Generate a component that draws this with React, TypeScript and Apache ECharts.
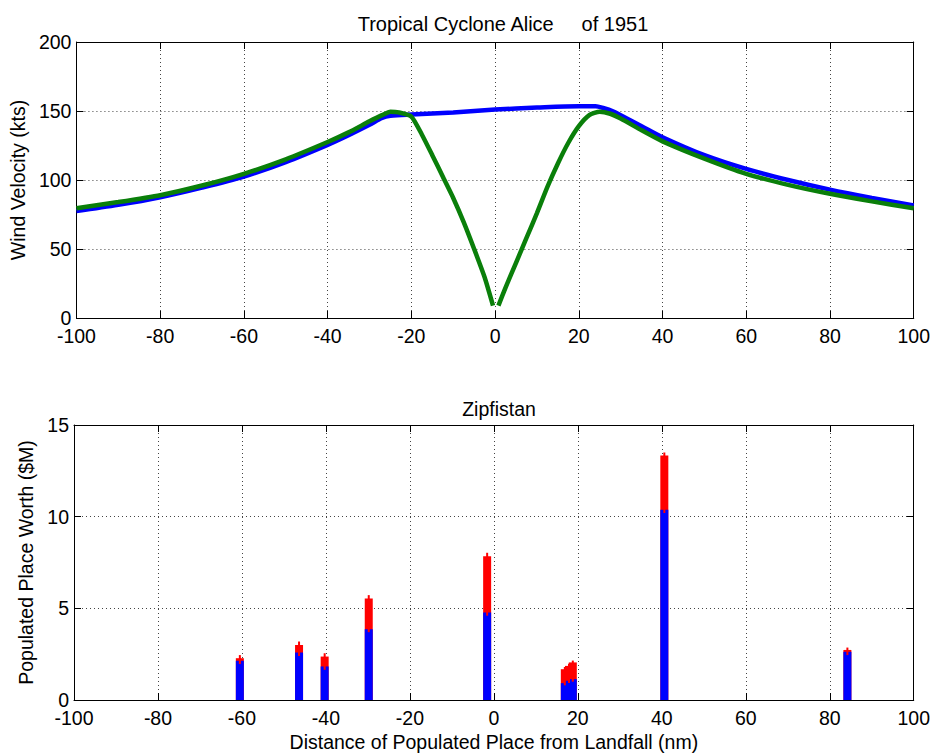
import React, { useEffect, useRef } from "react";
import * as echarts from "echarts";

// ---- Top chart: wind velocity profiles ----
const blueX = [-100, -90, -80, -70, -60, -50, -40, -35, -30, -27, -25, -20, -10, 0, 10, 20, 24, 26, 28, 30, 35, 40, 50, 60, 70, 80, 90, 100];
const blueY = [77.5, 82, 87.5, 94.5, 102.5, 113, 125.5, 132.5, 140, 145, 146.5, 147.5, 149, 151, 152.5, 153.5, 153.5, 152, 150, 147, 139, 131, 118, 108, 100, 93, 87, 81.5];

const greenLeftX = [-100, -90, -80, -70, -60, -50, -40, -35, -30, -27, -25, -23, -20, -17.5, -15, -12.5, -10, -7.5, -5, -2.5, -0.5];
const greenLeftY = [79.5, 84, 89, 96, 104.5, 115, 127.5, 134.5, 142.5, 147, 149.5, 149, 146, 133, 118, 102.5, 87, 69.5, 50, 29.5, 9];
const greenRightX = [0.8, 2.5, 5, 7.5, 10, 12.5, 15, 17.5, 20, 22.5, 25, 27.5, 30, 35, 40, 50, 60, 70, 80, 90, 100];
const greenRightY = [9, 22, 40, 58, 76, 95, 112, 127, 139, 147, 149.5, 148, 144.5, 136, 128, 115.5, 104.5, 96.5, 90, 84.5, 79.5];

// ---- Bottom chart: populated place worth ----
const placeX = [-60.5, -46.4, -40.3, -29.8, -1.6, 16.9, 17.9, 18.8, 40.6, 84.2];
const blueWorth = [2.14, 2.59, 1.83, 3.86, 4.77, 0.92, 1.05, 1.14, 10.38, 2.63];
const redWorth = [0.14, 0.41, 0.54, 1.68, 3.07, 0.76, 0.81, 0.91, 2.95, 0.1];
const errLow = [1.96, 2.4, 1.65, 3.7, 4.6, 0.8, 0.93, 1.0, 10.2, 2.45];
const errHigh = [2.45, 3.19, 2.55, 5.72, 8.03, 1.8, 1.98, 2.15, 13.5, 2.86];

const xTicks = { min: -100, max: 100, interval: 20 };
const topY = { min: 0, max: 200, interval: 50 };
const botY = { min: 0, max: 15, interval: 5 };

const FONT = "Liberation Sans, Arial, sans-serif";
const FS = 19.5;

function pairs(xs: number[], ys: number[]) {
  return xs.map((x, i) => [x, ys[i]]);
}

export default function App() {
  const ref = useRef<HTMLDivElement>(null);
  useEffect(() => {
    if (!ref.current) return;
    const chart = echarts.init(ref.current, undefined, { renderer: "svg" });

    const gridLine = { show: true, lineStyle: { color: "#444", type: [1, 3] as any, width: 1 } };
    const axisLine = { show: true, onZero: false, lineStyle: { color: "#000", width: 1 } };
    const tick = { show: true, inside: true, length: 7, lineStyle: { color: "#000" } };
    const label = { color: "#000", fontSize: FS, fontFamily: FONT };

    const mainX = (gridIndex: number, name: string) => ({
      type: "value",
      gridIndex,
      position: "bottom",
      ...xTicks,
      axisLine,
      axisTick: tick,
      axisLabel: { ...label, margin: 10, lineHeight: 16 },
      splitLine: gridLine,
      name,
      nameLocation: "middle",
      nameGap: 32,
      nameTextStyle: { color: "#000", fontSize: FS, fontFamily: FONT },
    });
    const topX = (gridIndex: number) => ({
      type: "value",
      gridIndex,
      position: "top",
      ...xTicks,
      axisLine,
      axisTick: tick,
      axisLabel: { show: false },
      splitLine: { show: false },
    });
    const mainY = (gridIndex: number, range: any, name: string, gap: number) => ({
      type: "value",
      gridIndex,
      position: "left",
      ...range,
      axisLine,
      axisTick: tick,
      axisLabel: { ...label, margin: 5, lineHeight: 14 },
      splitLine: gridLine,
      name,
      nameLocation: "middle",
      nameGap: gap,
      nameRotate: 90,
      nameTextStyle: { color: "#000", fontSize: FS, fontFamily: FONT },
    });
    const rightY = (gridIndex: number, range: any) => ({
      type: "value",
      gridIndex,
      position: "right",
      ...range,
      axisLine,
      axisTick: tick,
      axisLabel: { show: false },
      splitLine: { show: false },
    });

    const totals = blueWorth.map((b, i) => b + redWorth[i]);

    chart.setOption({
      animation: false,
      backgroundColor: "#fff",
      title: [
        {
          text: "Tropical Cyclone Alice     of 1951",
          left: 498,
          top: 9,
          textAlign: "center",
          textStyle: { color: "#000", fontSize: 20, fontWeight: "normal", fontFamily: FONT },
        },
        {
          text: "Zipfistan",
          left: 494,
          top: 394,
          textAlign: "center",
          textStyle: { color: "#000", fontSize: FS, fontWeight: "normal", fontFamily: FONT },
        },
      ],
      grid: [
        { left: 74, right: 19, top: 42, height: 276 },
        { left: 74, right: 19, top: 425, height: 276 },
      ],
      xAxis: [mainX(0, ""), topX(0), mainX(1, "Distance of Populated Place from Landfall (nm)"), topX(1)],
      yAxis: [
        mainY(0, topY, "Wind Velocity (kts)", 44),
        rightY(0, topY),
        mainY(1, botY, "Populated Place Worth ($M)", 34),
        rightY(1, botY),
      ],
      series: [
        {
          type: "line",
          xAxisIndex: 0,
          yAxisIndex: 0,
          data: pairs(blueX, blueY),
          showSymbol: false,
          smooth: 0.3,
          lineStyle: { color: "#0000ff", width: 4.5 },
          clip: true,
          z: 3,
        },
        {
          type: "line",
          xAxisIndex: 0,
          yAxisIndex: 0,
          data: pairs(greenLeftX, greenLeftY),
          showSymbol: false,
          smooth: 0.2,
          lineStyle: { color: "#0a7f0a", width: 4.5 },
          clip: true,
          z: 4,
        },
        {
          type: "line",
          xAxisIndex: 0,
          yAxisIndex: 0,
          data: pairs(greenRightX, greenRightY),
          showSymbol: false,
          smooth: 0.2,
          lineStyle: { color: "#0a7f0a", width: 4.5 },
          clip: true,
          z: 4,
        },
        {
          type: "bar",
          xAxisIndex: 2,
          yAxisIndex: 2,
          data: pairs(placeX, totals),
          barWidth: 8,
          barGap: "-100%",
          itemStyle: { color: "#ff0000" },
          z: 2,
        },
        {
          type: "bar",
          xAxisIndex: 2,
          yAxisIndex: 2,
          data: pairs(placeX, blueWorth),
          barWidth: 8,
          barGap: "-100%",
          itemStyle: { color: "#0000ff" },
          z: 3,
        },
        {
          type: "custom",
          xAxisIndex: 2,
          yAxisIndex: 2,
          data: placeX.map((x, i) => [x, errLow[i], errHigh[i]]),
          encode: { x: 0, y: [1, 2] },
          renderItem: (params: any, api: any) => {
            const x = api.value(0);
            const lo = api.coord([x, api.value(1)]);
            const hi = api.coord([x, api.value(2)]);
            return {
              type: "line",
              shape: { x1: lo[0], y1: lo[1], x2: hi[0], y2: hi[1] },
              style: { stroke: "#ff0000", lineWidth: 2 },
            };
          },
          z: 5,
        },
      ],
    });
    return () => chart.dispose();
  }, []);

  return (
    <div
      ref={ref}
      style={{ position: "absolute", left: 0, top: 0, width: 933, height: 753, background: "#fff" }}
    />
  );
}
